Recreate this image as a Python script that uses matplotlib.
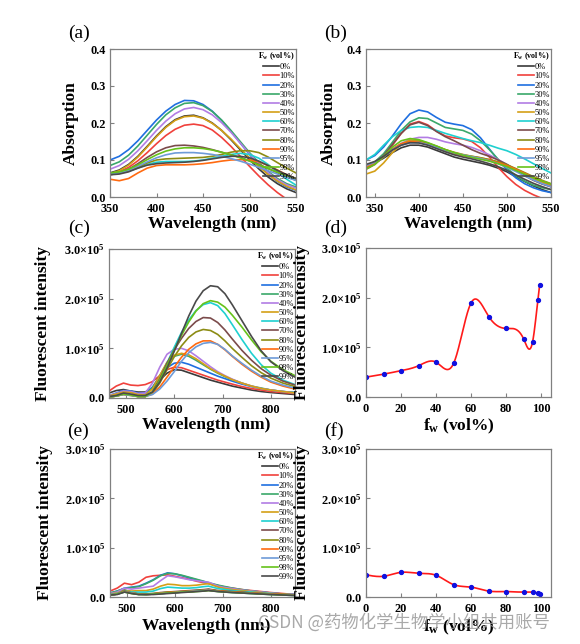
import numpy as np
import matplotlib
matplotlib.use("Agg")
import matplotlib.pyplot as plt
from matplotlib.ticker import FixedLocator, FixedFormatter

plt.rcParams['font.family'] = ['Liberation Serif', 'DejaVu Serif']
plt.rcParams['mathtext.fontset'] = 'custom'
plt.rcParams['mathtext.rm'] = 'Liberation Serif'
plt.rcParams['mathtext.bf'] = 'Liberation Serif:bold'
plt.rcParams['mathtext.it'] = 'Liberation Serif:italic'

# ---------------- data ----------------
fw_labels = ['0%', '10%', '20%', '30%', '40%', '50%', '60%', '70%', '80%', '90%', '95%', '98%', '99%']
colors = ['#3a3a3a', '#f0413c', '#1f6fe0', '#3aa86a', '#b27de4', '#d4a017', '#1fd0d0',
          '#7b4b4b', '#8c8c14', '#ff6a10', '#6e9bd8', '#66c21a', '#4a4a4a']

# (a) absorption
wl_a = [350, 360, 370, 380, 390, 400, 410, 420, 430, 440, 450, 460, 470, 480, 490, 500, 510, 520, 530, 540, 550]
abs_a_0 = [0.065, 0.073, 0.088, 0.110, 0.137, 0.165, 0.190, 0.209, 0.219, 0.221, 0.214, 0.200, 0.180, 0.155, 0.128, 0.101, 0.076, 0.054, 0.036, 0.022, 0.012]
abs_a_10 = [0.062, 0.068, 0.080, 0.098, 0.120, 0.144, 0.166, 0.183, 0.194, 0.197, 0.193, 0.181, 0.161, 0.137, 0.110, 0.083, 0.057, 0.033, 0.012, -0.006, -0.02]
abs_a_20 = [0.100, 0.110, 0.128, 0.152, 0.180, 0.208, 0.232, 0.250, 0.261, 0.260, 0.250, 0.232, 0.207, 0.178, 0.146, 0.115, 0.087, 0.062, 0.042, 0.027, 0.018]
abs_a_30 = [0.085, 0.095, 0.113, 0.138, 0.167, 0.196, 0.222, 0.241, 0.253, 0.255, 0.247, 0.231, 0.208, 0.180, 0.150, 0.120, 0.093, 0.069, 0.050, 0.036, 0.027]
abs_a_40 = [0.075, 0.085, 0.102, 0.125, 0.152, 0.180, 0.205, 0.225, 0.238, 0.242, 0.236, 0.222, 0.201, 0.175, 0.146, 0.117, 0.090, 0.066, 0.047, 0.033, 0.024]
abs_a_50 = [0.063, 0.071, 0.086, 0.108, 0.135, 0.163, 0.188, 0.207, 0.217, 0.219, 0.213, 0.199, 0.180, 0.157, 0.131, 0.106, 0.082, 0.061, 0.043, 0.029, 0.019]
abs_a_60 = [0.065, 0.066, 0.070, 0.078, 0.088, 0.094, 0.096, 0.096, 0.096, 0.097, 0.100, 0.105, 0.110, 0.115, 0.118, 0.115, 0.105, 0.088, 0.068, 0.048, 0.032]
abs_a_70 = [0.060, 0.065, 0.075, 0.090, 0.107, 0.122, 0.133, 0.139, 0.140, 0.138, 0.134, 0.128, 0.121, 0.114, 0.107, 0.098, 0.088, 0.077, 0.066, 0.055, 0.045]
abs_a_80 = [0.065, 0.066, 0.070, 0.080, 0.092, 0.100, 0.103, 0.104, 0.105, 0.106, 0.107, 0.110, 0.115, 0.121, 0.125, 0.125, 0.120, 0.108, 0.093, 0.078, 0.065]
abs_a_90 = [0.048, 0.044, 0.050, 0.065, 0.078, 0.085, 0.087, 0.087, 0.087, 0.088, 0.090, 0.093, 0.097, 0.100, 0.101, 0.100, 0.095, 0.085, 0.073, 0.060, 0.050]
abs_a_95 = [0.062, 0.065, 0.072, 0.083, 0.095, 0.106, 0.114, 0.119, 0.120, 0.120, 0.118, 0.115, 0.110, 0.104, 0.097, 0.089, 0.080, 0.071, 0.062, 0.053, 0.045]
abs_a_98 = [0.065, 0.068, 0.075, 0.087, 0.101, 0.114, 0.124, 0.130, 0.133, 0.133, 0.131, 0.127, 0.121, 0.114, 0.106, 0.097, 0.087, 0.077, 0.067, 0.058, 0.050]
abs_a_99 = [0.060, 0.062, 0.068, 0.078, 0.086, 0.090, 0.092, 0.093, 0.094, 0.096, 0.099, 0.103, 0.107, 0.110, 0.110, 0.106, 0.097, 0.085, 0.072, 0.060, 0.050]
abs_a = [abs_a_0, abs_a_10, abs_a_20, abs_a_30, abs_a_40, abs_a_50, abs_a_60,
         abs_a_70, abs_a_80, abs_a_90, abs_a_95, abs_a_98, abs_a_99]

# (b) absorption
wl_b = [340, 350, 360, 370, 380, 390, 400, 410, 420, 430, 440, 450, 460, 470, 480, 490, 500, 510, 520, 530, 540, 550]
abs_b_0 = [0.085, 0.092, 0.105, 0.120, 0.133, 0.140, 0.140, 0.135, 0.126, 0.117, 0.108, 0.102, 0.097, 0.092, 0.086, 0.078, 0.068, 0.055, 0.042, 0.030, 0.020, 0.012]
abs_b_10 = [0.075, 0.088, 0.110, 0.140, 0.172, 0.197, 0.204, 0.195, 0.178, 0.165, 0.160, 0.157, 0.150, 0.133, 0.108, 0.080, 0.055, 0.034, 0.018, 0.006, -0.004, -0.012]
abs_b_20 = [0.100, 0.112, 0.135, 0.165, 0.198, 0.225, 0.235, 0.230, 0.215, 0.202, 0.197, 0.193, 0.182, 0.160, 0.130, 0.100, 0.073, 0.052, 0.036, 0.025, 0.017, 0.012]
abs_b_30 = [0.085, 0.095, 0.117, 0.148, 0.180, 0.203, 0.214, 0.212, 0.200, 0.188, 0.184, 0.180, 0.170, 0.152, 0.128, 0.102, 0.078, 0.058, 0.043, 0.032, 0.025, 0.020]
abs_b_40 = [0.080, 0.090, 0.108, 0.128, 0.145, 0.156, 0.161, 0.161, 0.156, 0.149, 0.144, 0.140, 0.134, 0.125, 0.114, 0.101, 0.088, 0.074, 0.060, 0.047, 0.036, 0.027]
abs_b_50 = [0.062, 0.070, 0.092, 0.120, 0.143, 0.154, 0.153, 0.146, 0.137, 0.128, 0.121, 0.115, 0.110, 0.106, 0.101, 0.094, 0.085, 0.074, 0.062, 0.050, 0.040, 0.030]
abs_b_60 = [0.100, 0.115, 0.140, 0.163, 0.180, 0.188, 0.190, 0.188, 0.180, 0.172, 0.165, 0.158, 0.152, 0.147, 0.140, 0.132, 0.125, 0.115, 0.103, 0.090, 0.077, 0.065]
abs_b_70 = [0.078, 0.090, 0.112, 0.142, 0.172, 0.195, 0.202, 0.193, 0.177, 0.163, 0.152, 0.140, 0.128, 0.118, 0.110, 0.100, 0.088, 0.073, 0.058, 0.045, 0.035, 0.028]
abs_b_80 = [0.080, 0.090, 0.108, 0.128, 0.143, 0.150, 0.150, 0.145, 0.137, 0.128, 0.120, 0.114, 0.110, 0.106, 0.101, 0.095, 0.087, 0.077, 0.066, 0.055, 0.045, 0.036]
abs_b_90 = [0.082, 0.092, 0.110, 0.130, 0.144, 0.150, 0.148, 0.142, 0.133, 0.124, 0.117, 0.112, 0.108, 0.104, 0.099, 0.093, 0.085, 0.075, 0.064, 0.053, 0.043, 0.034]
abs_b_95 = [0.085, 0.094, 0.110, 0.128, 0.140, 0.146, 0.147, 0.142, 0.134, 0.126, 0.119, 0.114, 0.109, 0.104, 0.098, 0.090, 0.080, 0.069, 0.057, 0.046, 0.036, 0.028]
abs_b_98 = [0.075, 0.088, 0.110, 0.135, 0.152, 0.158, 0.155, 0.147, 0.138, 0.128, 0.120, 0.113, 0.107, 0.102, 0.097, 0.090, 0.082, 0.072, 0.062, 0.052, 0.043, 0.035]
abs_b_99 = [0.088, 0.096, 0.110, 0.127, 0.140, 0.147, 0.146, 0.140, 0.131, 0.122, 0.114, 0.108, 0.103, 0.097, 0.090, 0.082, 0.072, 0.060, 0.048, 0.037, 0.028, 0.020]
abs_b = [abs_b_0, abs_b_10, abs_b_20, abs_b_30, abs_b_40, abs_b_50, abs_b_60,
         abs_b_70, abs_b_80, abs_b_90, abs_b_95, abs_b_98, abs_b_99]

# (c) fluorescence (x1e5)
wl_c = [465, 480, 495, 510, 525, 540, 555, 570, 585, 600, 615, 630, 645, 660, 675, 690, 705, 720, 740, 760, 780, 800, 825, 850]
fl_c_0 = [0.10, 0.15, 0.17, 0.14, 0.12, 0.12, 0.20, 0.36, 0.50, 0.57, 0.56, 0.51, 0.46, 0.41, 0.36, 0.32, 0.28, 0.24, 0.20, 0.16, 0.13, 0.11, 0.09, 0.07]
fl_c_10 = [0.14, 0.24, 0.30, 0.26, 0.25, 0.27, 0.33, 0.45, 0.57, 0.62, 0.61, 0.56, 0.51, 0.46, 0.41, 0.36, 0.32, 0.28, 0.23, 0.19, 0.16, 0.13, 0.11, 0.09]
fl_c_20 = [0.05, 0.10, 0.15, 0.14, 0.10, 0.10, 0.22, 0.43, 0.61, 0.70, 0.72, 0.68, 0.62, 0.56, 0.50, 0.44, 0.39, 0.34, 0.28, 0.23, 0.19, 0.16, 0.13, 0.11]
fl_c_30 = [0.04, 0.08, 0.13, 0.12, 0.08, 0.07, 0.20, 0.45, 0.70, 0.84, 0.88, 0.84, 0.76, 0.67, 0.58, 0.50, 0.43, 0.37, 0.30, 0.24, 0.20, 0.16, 0.13, 0.11]
fl_c_40 = [0.05, 0.09, 0.14, 0.13, 0.09, 0.10, 0.30, 0.62, 0.88, 0.98, 1.00, 0.95, 0.85, 0.74, 0.63, 0.53, 0.45, 0.38, 0.30, 0.24, 0.19, 0.16, 0.13, 0.10]
fl_c_50 = [0.04, 0.08, 0.12, 0.11, 0.07, 0.06, 0.18, 0.45, 0.72, 0.86, 0.90, 0.87, 0.79, 0.69, 0.59, 0.51, 0.44, 0.37, 0.30, 0.24, 0.19, 0.16, 0.13, 0.10]
fl_c_60 = [0.02, 0.04, 0.08, 0.06, 0.03, 0.03, 0.10, 0.35, 0.70, 1.02, 1.32, 1.57, 1.76, 1.88, 1.92, 1.86, 1.70, 1.48, 1.18, 0.90, 0.67, 0.50, 0.36, 0.27]
fl_c_70 = [0.02, 0.04, 0.08, 0.06, 0.03, 0.03, 0.12, 0.38, 0.70, 0.97, 1.20, 1.40, 1.54, 1.62, 1.61, 1.52, 1.37, 1.19, 0.96, 0.76, 0.59, 0.46, 0.34, 0.26]
fl_c_80 = [0.02, 0.04, 0.07, 0.06, 0.03, 0.03, 0.10, 0.30, 0.57, 0.83, 1.05, 1.22, 1.33, 1.38, 1.36, 1.28, 1.15, 1.00, 0.82, 0.65, 0.51, 0.40, 0.30, 0.23]
fl_c_90 = [0.02, 0.04, 0.07, 0.05, 0.03, 0.03, 0.08, 0.22, 0.42, 0.62, 0.82, 0.98, 1.09, 1.15, 1.15, 1.08, 0.97, 0.84, 0.68, 0.54, 0.42, 0.32, 0.24, 0.18]
fl_c_95 = [0.02, 0.04, 0.07, 0.05, 0.03, 0.03, 0.07, 0.18, 0.34, 0.53, 0.74, 0.91, 1.03, 1.10, 1.12, 1.08, 0.98, 0.85, 0.70, 0.56, 0.44, 0.34, 0.26, 0.20]
fl_c_98 = [0.02, 0.04, 0.08, 0.06, 0.03, 0.03, 0.12, 0.36, 0.66, 0.96, 1.26, 1.53, 1.75, 1.90, 1.96, 1.93, 1.83, 1.67, 1.43, 1.17, 0.93, 0.74, 0.57, 0.45]
fl_c_99 = [0.03, 0.05, 0.10, 0.08, 0.05, 0.05, 0.12, 0.32, 0.60, 0.94, 1.30, 1.65, 1.95, 2.16, 2.26, 2.24, 2.10, 1.88, 1.56, 1.24, 0.95, 0.73, 0.55, 0.42]
fl_c = [fl_c_0, fl_c_10, fl_c_20, fl_c_30, fl_c_40, fl_c_50, fl_c_60,
        fl_c_70, fl_c_80, fl_c_90, fl_c_95, fl_c_98, fl_c_99]

# (e) fluorescence (x1e5)
wl_e = [465, 480, 495, 510, 525, 540, 555, 570, 585, 600, 615, 630, 645, 660, 670, 690, 705, 720, 740, 760, 780, 800, 825, 850]
fl_e_0 = [0.05, 0.08, 0.14, 0.10, 0.06, 0.05, 0.06, 0.07, 0.08, 0.09, 0.10, 0.11, 0.12, 0.13, 0.15, 0.12, 0.11, 0.10, 0.09, 0.08, 0.07, 0.06, 0.05, 0.04]
fl_e_10 = [0.12, 0.18, 0.28, 0.25, 0.30, 0.40, 0.43, 0.44, 0.45, 0.42, 0.39, 0.36, 0.32, 0.29, 0.27, 0.23, 0.20, 0.18, 0.15, 0.13, 0.11, 0.09, 0.07, 0.05]
fl_e_20 = [0.08, 0.12, 0.18, 0.20, 0.22, 0.28, 0.35, 0.44, 0.49, 0.47, 0.43, 0.39, 0.35, 0.31, 0.28, 0.23, 0.20, 0.17, 0.14, 0.12, 0.10, 0.08, 0.06, 0.05]
fl_e_30 = [0.08, 0.12, 0.17, 0.19, 0.21, 0.27, 0.34, 0.43, 0.48, 0.47, 0.44, 0.40, 0.36, 0.32, 0.29, 0.24, 0.21, 0.18, 0.15, 0.12, 0.10, 0.08, 0.06, 0.05]
fl_e_40 = [0.07, 0.10, 0.18, 0.16, 0.18, 0.20, 0.22, 0.33, 0.43, 0.41, 0.38, 0.35, 0.33, 0.31, 0.30, 0.22, 0.19, 0.17, 0.14, 0.12, 0.10, 0.08, 0.06, 0.05]
fl_e_50 = [0.06, 0.08, 0.13, 0.12, 0.13, 0.13, 0.16, 0.22, 0.26, 0.25, 0.23, 0.23, 0.24, 0.26, 0.27, 0.20, 0.17, 0.15, 0.13, 0.11, 0.09, 0.07, 0.06, 0.04]
fl_e_60 = [0.05, 0.07, 0.12, 0.10, 0.10, 0.10, 0.12, 0.17, 0.20, 0.19, 0.18, 0.18, 0.19, 0.21, 0.22, 0.17, 0.15, 0.13, 0.11, 0.10, 0.08, 0.07, 0.05, 0.04]
fl_e_70 = [0.04, 0.06, 0.12, 0.08, 0.06, 0.06, 0.07, 0.09, 0.10, 0.11, 0.12, 0.13, 0.14, 0.15, 0.16, 0.13, 0.12, 0.11, 0.10, 0.08, 0.07, 0.06, 0.05, 0.04]
fl_e_80 = [0.04, 0.06, 0.11, 0.08, 0.06, 0.06, 0.07, 0.08, 0.10, 0.10, 0.11, 0.12, 0.13, 0.14, 0.15, 0.12, 0.11, 0.10, 0.09, 0.08, 0.07, 0.06, 0.05, 0.04]
fl_e_90 = [0.04, 0.06, 0.11, 0.08, 0.06, 0.05, 0.06, 0.08, 0.09, 0.10, 0.11, 0.11, 0.12, 0.13, 0.14, 0.12, 0.11, 0.10, 0.09, 0.08, 0.07, 0.06, 0.05, 0.04]
fl_e_95 = [0.04, 0.06, 0.10, 0.08, 0.05, 0.05, 0.06, 0.07, 0.08, 0.09, 0.10, 0.11, 0.12, 0.13, 0.14, 0.11, 0.10, 0.09, 0.08, 0.07, 0.06, 0.05, 0.04, 0.03]
fl_e_98 = [0.04, 0.06, 0.10, 0.07, 0.05, 0.05, 0.06, 0.07, 0.08, 0.09, 0.10, 0.10, 0.11, 0.12, 0.13, 0.11, 0.10, 0.09, 0.08, 0.07, 0.06, 0.05, 0.04, 0.03]
fl_e_99 = [0.04, 0.05, 0.10, 0.07, 0.05, 0.05, 0.05, 0.06, 0.07, 0.08, 0.09, 0.10, 0.11, 0.12, 0.13, 0.11, 0.10, 0.09, 0.08, 0.07, 0.06, 0.05, 0.04, 0.03]
fl_e = [fl_e_0, fl_e_10, fl_e_20, fl_e_30, fl_e_40, fl_e_50, fl_e_60,
        fl_e_70, fl_e_80, fl_e_90, fl_e_95, fl_e_98, fl_e_99]

# (d), (f) peak intensity vs water fraction (x1e5)
fw = [0, 10, 20, 30, 40, 50, 60, 70, 80, 90, 95, 98, 99]
peak_d = [0.40, 0.46, 0.53, 0.63, 0.70, 0.68, 1.90, 1.62, 1.38, 1.16, 1.11, 1.95, 2.25]
peak_f = [0.45, 0.42, 0.50, 0.48, 0.44, 0.25, 0.20, 0.12, 0.11, 0.10, 0.10, 0.08, 0.07]

fl_ticks = [0, 1e5, 2e5, 3e5]
fl_ticklabels = [r'$\mathbf{0.0}$', r'$\mathbf{1.0{\times}10^{5}}$',
                 r'$\mathbf{2.0{\times}10^{5}}$', r'$\mathbf{3.0{\times}10^{5}}$']
abs_ticks = [0.0, 0.1, 0.2, 0.3, 0.4]
abs_ticklabels = ['0.0', '0.1', '0.2', '0.3', '0.4']

# ---------------- helpers ----------------
def natural_spline(x, y, n=600):
    x = np.asarray(x, float); y = np.asarray(y, float)
    m = len(x); h = np.diff(x)
    A = np.zeros((m, m)); b = np.zeros(m)
    A[0, 0] = 1; A[-1, -1] = 1
    for i in range(1, m - 1):
        A[i, i - 1] = h[i - 1]; A[i, i] = 2 * (h[i - 1] + h[i]); A[i, i + 1] = h[i]
        b[i] = 3 * ((y[i + 1] - y[i]) / h[i] - (y[i] - y[i - 1]) / h[i - 1])
    c = np.linalg.solve(A, b)
    bb = (y[1:] - y[:-1]) / h - h * (2 * c[:-1] + c[1:]) / 3
    d = (c[1:] - c[:-1]) / (3 * h)
    xs = np.linspace(x[0], x[-1], n)
    idx = np.clip(np.searchsorted(x, xs) - 1, 0, m - 2)
    dx = xs - x[idx]
    return xs, y[idx] + bb[idx] * dx + c[idx] * dx ** 2 + d[idx] * dx ** 3

W, H = 580, 644
fig = plt.figure(figsize=(W / 100, H / 100), dpi=100)

def make_ax(x0, y0, x1, y1):
    return fig.add_axes([x0 / W, 1 - y1 / H, (x1 - x0) / W, (y1 - y0) / H])

spine_col = '#808080'
def style(ax):
    for s in ax.spines.values():
        s.set_color(spine_col); s.set_linewidth(0.9)
    ax.tick_params(direction='in', length=3, width=0.8, color=spine_col,
                   labelsize=8.8)
    ax.tick_params(axis='x', pad=4)
    ax.tick_params(axis='y', pad=3)
    for lab in ax.get_xticklabels() + ax.get_yticklabels():
        lab.set_fontweight('bold')

def legend(ax):
    leg = ax.legend(loc='upper right', bbox_to_anchor=(1.01, 1.01), frameon=False,
                    fontsize=6.0, handlelength=1.9, handletextpad=0.1,
                    labelspacing=0.14, borderpad=0.2, borderaxespad=0.15,
                    title=r'$\mathbf{F_w}$ (vol%)',
                    title_fontproperties={'weight': 'bold', 'size': 5.8})
    leg._legend_box.align = 'right'

lbl_kw = dict(fontsize=12.5, fontweight='bold')

# (a)
ax = make_ax(110, 49, 296, 197)
for ys, c, l in zip(abs_a, colors, fw_labels):
    ax.plot(wl_a, ys, color=c, lw=1.2, label=l)
ax.set_xlim(350, 550); ax.set_ylim(0, 0.4)
ax.set_xticks([350, 400, 450, 500, 550])
ax.set_yticks(abs_ticks); ax.set_yticklabels(abs_ticklabels)
ax.set_xlabel('Wavelength (nm)', **lbl_kw)
ax.set_ylabel('Absorption', **lbl_kw)
ax.xaxis.set_label_coords(0.55, -0.13)
ax.yaxis.set_label_coords(-0.165, 0.5)
style(ax); legend(ax)

# (b)
ax = make_ax(366, 49, 551, 197)
for ys, c, l in zip(abs_b, colors, fw_labels):
    ax.plot(wl_b, ys, color=c, lw=1.2, label=l)
ax.set_xlim(340, 550); ax.set_ylim(0, 0.4)
ax.set_xticks([350, 400, 450, 500, 550])
ax.set_yticks(abs_ticks); ax.set_yticklabels(abs_ticklabels)
ax.set_xlabel('Wavelength (nm)', **lbl_kw)
ax.set_ylabel('Absorption', **lbl_kw)
ax.xaxis.set_label_coords(0.55, -0.13)
ax.yaxis.set_label_coords(-0.16, 0.5)
style(ax); legend(ax)

def fl_axes(ax):
    ax.set_ylim(0, 3e5)
    ax.yaxis.set_major_locator(FixedLocator(fl_ticks))
    ax.yaxis.set_major_formatter(FixedFormatter(fl_ticklabels))
    ax.set_ylabel('Fluorescent intensity', **lbl_kw)

# (c)
ax = make_ax(109, 249, 295, 398)
for ys, c, l in zip(fl_c, colors, fw_labels):
    ax.plot(wl_c, np.array(ys) * 1e5, color=c, lw=1.2, label=l)
ax.set_xlim(465, 850)
ax.set_xticks([500, 600, 700, 800])
fl_axes(ax)
ax.set_xlabel('Wavelength (nm)', **lbl_kw)
ax.xaxis.set_label_coords(0.52, -0.13)
ax.yaxis.set_label_coords(-0.31, 0.5)
style(ax); legend(ax)

# (d)
ax = make_ax(366, 248, 551, 397)
xs, ys = natural_spline(fw, np.array(peak_d) * 1e5)
ax.plot(xs, ys, color='#ff1a1a', lw=1.2)
ax.plot(fw, np.array(peak_d) * 1e5, 'o', color='#1010e0', ms=2.8, mec='#1010e0')
ax.set_xlim(0, 105.5)
ax.set_xticks([0, 20, 40, 60, 80, 100])
fl_axes(ax)
ax.set_xlabel(r'$\mathbf{f_w}$ (vol%)', **lbl_kw)
ax.xaxis.set_label_coords(0.5, -0.13)
ax.yaxis.set_label_coords(-0.30, 0.5)
style(ax)

# (e)
ax = make_ax(110, 449, 295, 597)
for ys, c, l in zip(fl_e, colors, fw_labels):
    ax.plot(wl_e, np.array(ys) * 1e5, color=c, lw=1.2, label=l)
ax.set_xlim(465, 850)
ax.set_xticks([500, 600, 700, 800])
fl_axes(ax)
ax.set_xlabel('Wavelength (nm)', **lbl_kw)
ax.xaxis.set_label_coords(0.52, -0.14)
ax.yaxis.set_label_coords(-0.31, 0.5)
style(ax); legend(ax)

# (f)
ax = make_ax(366, 449, 551, 597)
xs, ys = natural_spline(fw, np.array(peak_f) * 1e5)
ax.plot(xs, ys, color='#ff1a1a', lw=1.2)
ax.plot(fw, np.array(peak_f) * 1e5, 'o', color='#1010e0', ms=2.8, mec='#1010e0')
ax.set_xlim(0, 105.5)
ax.set_xticks([0, 20, 40, 60, 80, 100])
fl_axes(ax)
ax.set_xlabel(r'$\mathbf{f_w}$ (vol%)', **lbl_kw)
ax.xaxis.set_label_coords(0.5, -0.14)
ax.yaxis.set_label_coords(-0.30, 0.5)
style(ax)

# panel letters
for t, (px, py) in zip(['(a)', '(b)', '(c)', '(d)', '(e)', '(f)'],
                       [(79, 33), (336, 33), (79, 228), (336, 228), (78, 431), (334, 431)]):
    fig.text(px / W, 1 - py / H, t, fontsize=14, ha='center', va='center')

# watermark
fig.text(258 / W, 1 - 622 / H, 'CSDN @药物化学生物学小组共用账号', fontsize=12.5,
         color='#9a9a9a', alpha=0.85, ha='left', va='center',
         family=['Noto Sans CJK SC', 'DejaVu Sans'])

fig.savefig('out.png', dpi=100)
